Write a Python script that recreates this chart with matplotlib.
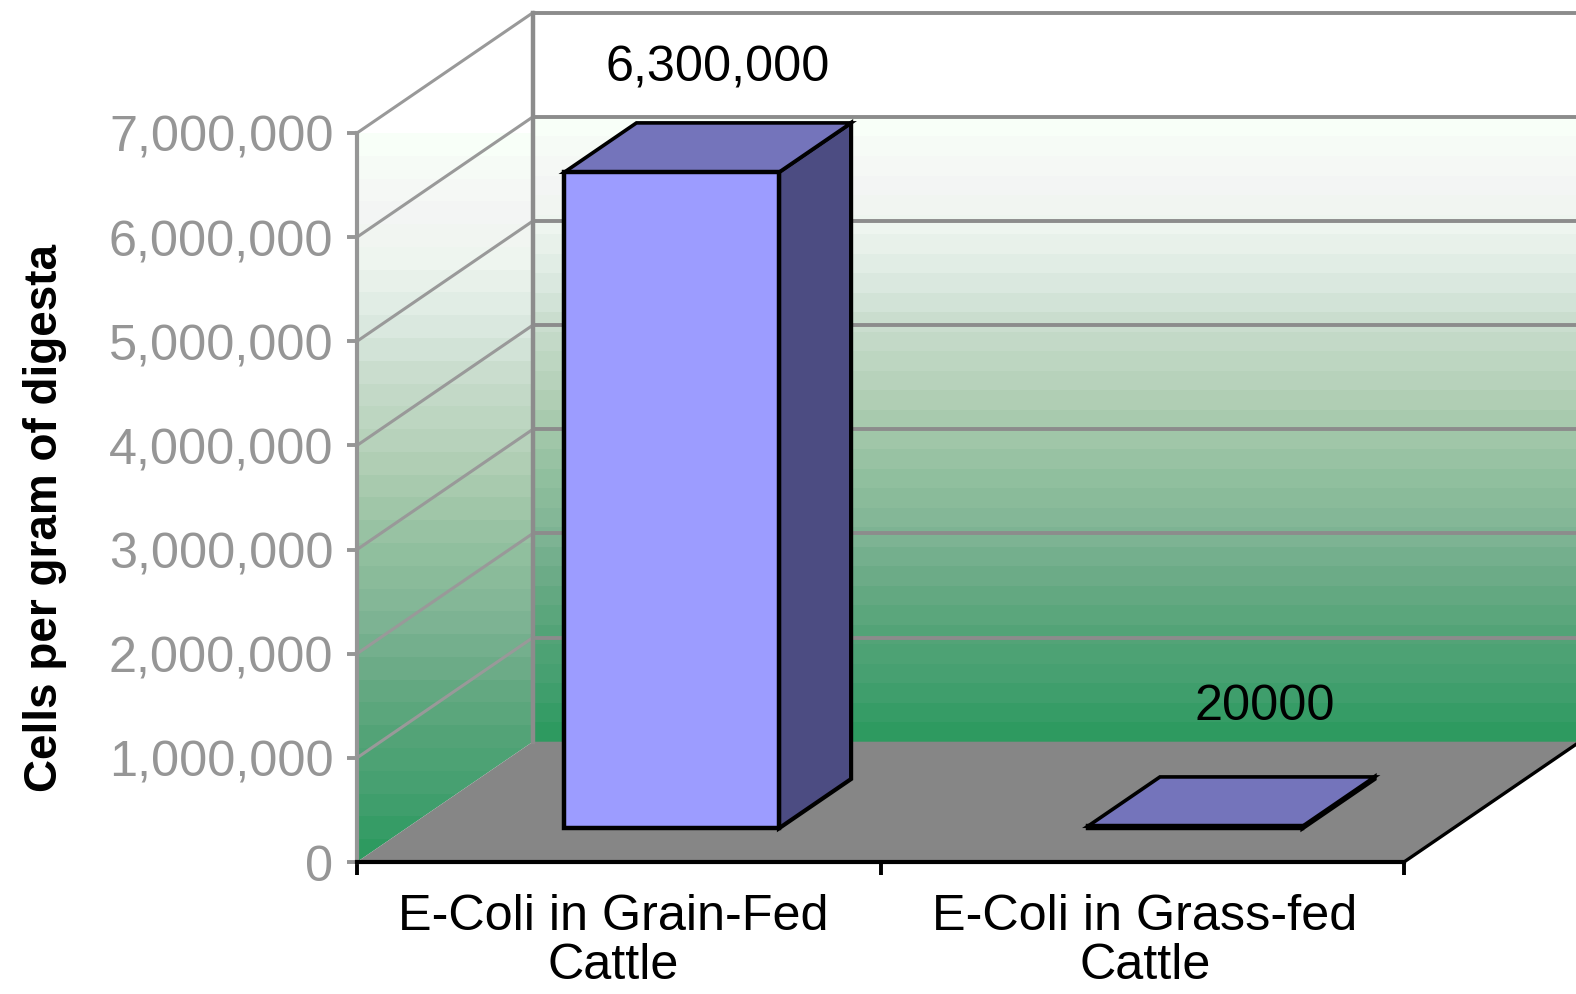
"""E-coli counts in grain-fed and grass-fed cattle, old Excel style 3D column chart."""
import numpy as np
import matplotlib
matplotlib.use("Agg")
import matplotlib.pyplot as plt
from matplotlib.colors import LinearSegmentedColormap
from matplotlib.patches import Polygon
from matplotlib.ticker import FuncFormatter

categories = ["E-Coli in Grain-Fed\nCattle", "E-Coli in Grass-fed\nCattle"]
values = [6300000, 20000]
value_labels = ["6,300,000", "20000"]
y_ticks = [0, 1000000, 2000000, 3000000, 4000000, 5000000, 6000000, 7000000]
y_label = "Cells per gram of digesta"

# depth of the fake 3D box, in data units
DEPTH_X = 0.336
DEPTH_Y = 1155000
BAR_W = 0.41
BAR_SHIFT = 0.007
BAR_Z = (0.28, 0.69)  # front and back of the bars, as share of the depth

GREY = "#8c8c8c"
TEXT_GREY = "#969696"
FS = 36.3

plt.rcParams["font.family"] = ["Liberation Sans", "DejaVu Sans"]

# bottom to top colours of the wall
wall_cmap = LinearSegmentedColormap.from_list(
    "wall",
    ["#2e9a60", "#45a070", "#55a478", "#6aab86", "#80b595", "#90bf9e", "#a5c8ab",
     "#b8d3bc", "#c8dccc", "#dceae2", "#eef5ef", "#f5f6f5", "#f8fff8"],
    N=32,
)
gradient = np.linspace(1, 0, 32).reshape(-1, 1)

fig = plt.figure(figsize=(15.76, 9.95), dpi=100)
ax = fig.add_axes([357 / 1576, 132 / 995, 1047 / 1576, 729 / 995])
ax.patch.set_visible(False)


def wall_image(extent, clip_poly):
    im = ax.imshow(gradient, cmap=wall_cmap, vmin=0, vmax=1, extent=extent,
                   aspect="auto", interpolation="nearest", zorder=1)
    im.set_clip_box(fig.bbox)
    if clip_poly is not None:
        ax.add_patch(clip_poly)
        im.set_clip_path(clip_poly)
    return im


def shape(points, face, edge="none", lw=0.0, zorder=3):
    p = Polygon(points, closed=True, facecolor=face, edgecolor=edge, linewidth=lw,
                joinstyle="miter", clip_on=False, zorder=zorder)
    ax.add_patch(p)
    return p


top = y_ticks[-1]

# back wall, the gradient stops one gridline under the top
wall_image([DEPTH_X, 2 + DEPTH_X, DEPTH_Y, DEPTH_Y + y_ticks[-2]], None)

# side wall
side = Polygon([(0, 0), (DEPTH_X, DEPTH_Y), (DEPTH_X, DEPTH_Y + top), (0, top)],
               closed=True, facecolor="none", edgecolor="none")
wall_image([0, DEPTH_X, 0, top], side)

# floor
shape([(0, 0), (2, 0), (2 + DEPTH_X, DEPTH_Y), (DEPTH_X, DEPTH_Y)], "#868686", zorder=2)
ax.plot([2, 2 + DEPTH_X], [0, DEPTH_Y], color="black", lw=2.4, clip_on=False, zorder=2.2)

# gridlines over both walls
for t in y_ticks[1:]:
    ax.plot([0, DEPTH_X], [t, t + DEPTH_Y], color="#999999", lw=2.2, clip_on=False, zorder=2.1)
    ax.plot([DEPTH_X, 2 + DEPTH_X], [t + DEPTH_Y, t + DEPTH_Y], color=GREY, lw=2.8,
            clip_on=False, zorder=2.1)
ax.plot([DEPTH_X, DEPTH_X], [DEPTH_Y, DEPTH_Y + top], color=GREY, lw=3.2, clip_on=False, zorder=2.1)

# bars
for i, v in enumerate(values):
    x0 = i + 0.5 - BAR_W / 2 + BAR_Z[0] * DEPTH_X + BAR_SHIFT
    x1 = x0 + BAR_W
    y0 = BAR_Z[0] * DEPTH_Y
    d_x = (BAR_Z[1] - BAR_Z[0]) * DEPTH_X
    d_y = (BAR_Z[1] - BAR_Z[0]) * DEPTH_Y
    shape([(x1, y0), (x1 + d_x, y0 + d_y), (x1 + d_x, y0 + d_y + v), (x1, y0 + v)],
          "#4c4c82", "black", 3.0, zorder=3)
    shape([(x0, y0 + v), (x1, y0 + v), (x1 + d_x, y0 + v + d_y), (x0 + d_x, y0 + v + d_y)],
          "#7474bb", "black", 2.6, zorder=3.1)
    shape([(x0, y0), (x1, y0), (x1, y0 + v), (x0, y0 + v)], "#9c9cff", "black", 3.2, zorder=3.2)

# value labels sit above and to the right of the columns
label_dx = [0.094, 0.140]
label_dy = [1010000, 1150000]
for i, v in enumerate(values):
    cx = i + 0.5 + BAR_Z[0] * DEPTH_X
    ax.text(cx + label_dx[i], BAR_Z[0] * DEPTH_Y + v + label_dy[i], value_labels[i],
            ha="center", va="center", fontsize=FS, color="black", clip_on=False, zorder=4)

ax.set_xlim(0, 2)
ax.set_ylim(0, top)

for name in ["top", "right"]:
    ax.spines[name].set_visible(False)
ax.spines["left"].set_color("#969696")
ax.spines["left"].set_linewidth(3)
ax.spines["bottom"].set_color("black")
ax.spines["bottom"].set_linewidth(3)
ax.spines["bottom"].set_zorder(5)

ax.set_yticks(y_ticks)
ax.yaxis.set_major_formatter(FuncFormatter(lambda v, pos: f"{int(v):,}"))
ax.tick_params(axis="y", length=7, width=2.8, color="#969696", labelcolor=TEXT_GREY,
               labelsize=FS, pad=10)

ax.set_xticks([0, 1, 2])
ax.set_xticklabels([])
ax.set_xticks([0.49, 1.505], minor=True)
ax.set_xticklabels(categories, minor=True, fontsize=FS, linespacing=1.1, color="black")
ax.tick_params(axis="x", which="major", length=9, width=2.8, color="black")
ax.tick_params(axis="x", which="minor", length=0, pad=22)

fig.text(45 / 1576, 1 - 518 / 995, y_label, rotation=90, ha="center", va="center",
         fontsize=33, fontweight="bold", color="black")

fig.savefig("out.png", dpi=100, facecolor="white")
